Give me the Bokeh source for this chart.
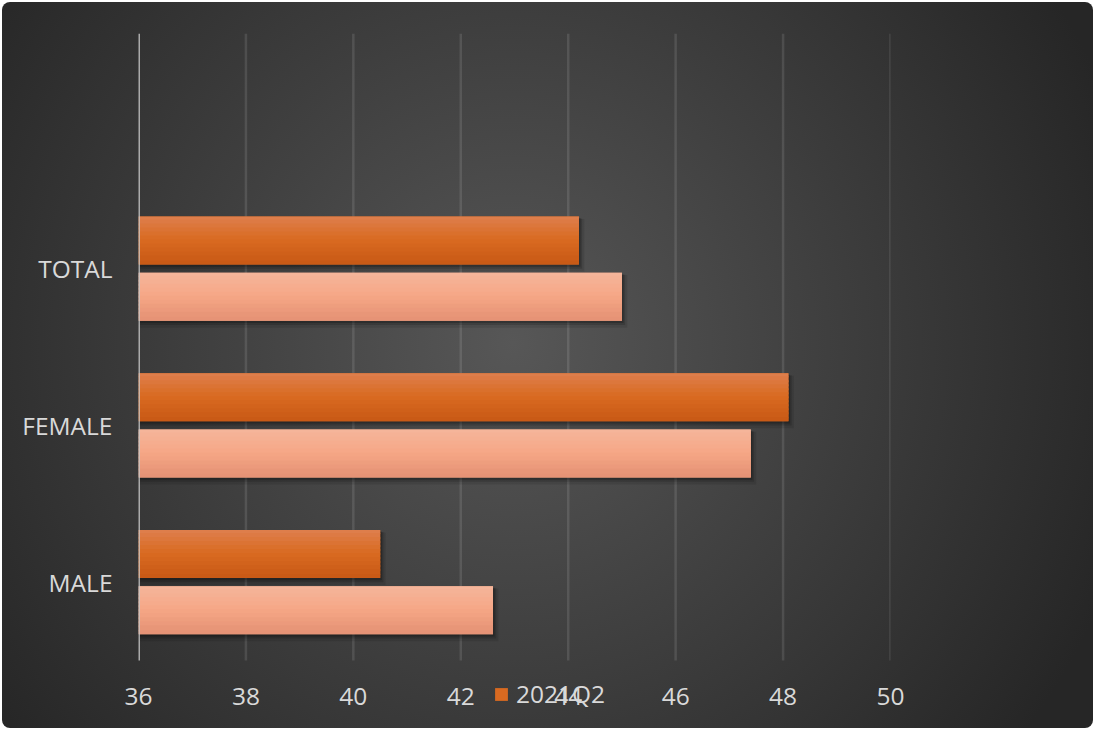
import numpy as np
from bokeh.plotting import figure
from bokeh.models import Range1d, FixedTicker, Legend, LegendItem
from bokeh.embed import file_html
from bokeh.resources import INLINE

# ---- data ----
categories = ["MALE", "FEMALE", "TOTAL"]
series_2021 = [40.5, 48.1, 44.2]      # dark orange, legend "2021Q2"
series_prev = [42.6, 47.4, 45.0]      # light salmon (no legend entry visible)
x_ticks = [36, 38, 40, 42, 44, 46, 48, 50]
legend_label = "2021Q2"

W, H = 1091, 726
Y_TOP = 4.0
Y_BOT = -0.332
p = figure(width=W, height=H, output_backend="svg", toolbar_location=None,
           x_range=Range1d(36, 50), y_range=Range1d(Y_BOT, Y_TOP),
           min_border_left=136, min_border_right=203,
           min_border_top=31, min_border_bottom=16)
p.styles = {
    "margin": "2px",
    "background": "radial-gradient(circle 643px at 511px 341px, #575757 0%, #262626 100%)",
    "border-radius": "8px", "overflow": "hidden",
}
p.background_fill_alpha = 0
p.border_fill_alpha = 0
p.outline_line_color = None

FONT = "Open Sans"
TXT = "#d9d9d9"
FS = "24.5px"

# axes
p.xaxis.ticker = FixedTicker(ticks=x_ticks)
p.xaxis.axis_line_color = None
p.xaxis.major_tick_line_color = None
p.xaxis.minor_tick_line_color = None
p.xaxis.major_label_text_font = FONT
p.xaxis.major_label_text_font_size = FS
p.xaxis.major_label_text_color = TXT
p.xaxis.major_label_standoff = -31

ypos = np.arange(len(categories)) + 0.5
p.yaxis.ticker = FixedTicker(ticks=list(ypos))
p.yaxis.major_label_overrides = {float(y): c for y, c in zip(ypos, categories)}
p.yaxis.axis_line_color = None
p.yaxis.major_tick_line_color = None
p.yaxis.minor_tick_line_color = None
p.yaxis.major_label_text_font = FONT
p.yaxis.major_label_text_font_size = FS
p.yaxis.major_label_text_color = TXT
p.yaxis.major_label_standoff = 20

p.xgrid.grid_line_color = None
p.ygrid.grid_line_color = None

# vertical gridlines over the plot area
gx = [t for t in x_ticks if t != x_ticks[0]]
p.segment(x0=gx, y0=[0] * len(gx), x1=gx, y1=[Y_TOP] * len(gx),
          line_color="white", line_alpha=0.11, line_width=2.5)

bar_h = 0.306
off = 0.179


def hexrgb(h):
    h = h.lstrip("#")
    return np.array([int(h[i:i + 2], 16) for i in (0, 2, 4)], float)


def interp(stops, t):
    for (p0, c0), (p1, c1) in zip(stops[:-1], stops[1:]):
        if p0 <= t <= p1:
            f = (t - p0) / (p1 - p0)
            c = hexrgb(c0) * (1 - f) + hexrgb(c1) * f
            return "#%02x%02x%02x" % tuple(int(round(v)) for v in c)
    return stops[-1][1]


dark_stops = [(0, "#de804f"), (0.5, "#d96a21"), (1, "#c85915")]
light_stops = [(0, "#f5b69c"), (0.5, "#f6a786"), (1, "#e49174")]


def draw_bars(values, yc, stops):
    values = np.array(values, float)
    for dx, dy, dh, a in [(0.10, 0.03, 0.03, 0.10), (0.06, 0.02, 0.015, 0.15), (0.03, 0.012, 0.005, 0.2)]:
        p.hbar(y=yc - dy, left=36, right=values + dx, height=bar_h + dh,
               fill_color="black", fill_alpha=a, line_color=None)
    base = p.hbar(y=yc, left=36, right=values, height=bar_h,
                  fill_color=interp(stops, 0.5), line_color=None)
    n = 12
    for i in range(n):
        t = (i + 0.5) / n
        yy = yc + bar_h / 2 - (i + 0.5) * bar_h / n
        p.hbar(y=yy, left=36, right=values, height=bar_h / n * 1.5 if 0 < i < n - 1 else bar_h / n,
               fill_color=interp(stops, t), line_color=None)
    return base


draw_bars(series_prev, ypos - off, light_stops)
dark_base = draw_bars(series_2021, ypos + off, dark_stops)

# value axis line (drawn over the bars, spans the category band)
p.segment(x0=[x_ticks[0]], y0=[0], x1=[x_ticks[0]], y1=[Y_TOP],
          line_color="#c8c8c8", line_alpha=0.8, line_width=3)

legend = Legend(items=[LegendItem(label=legend_label, renderers=[dark_base])],
                location=(355, 2), orientation="horizontal",
                glyph_width=16, glyph_height=16, label_standoff=7,
                padding=0, margin=0, spacing=0,
                border_line_color=None, background_fill_alpha=0,
                label_text_font=FONT, label_text_font_size=FS,
                label_text_color=TXT)
p.add_layout(legend, "center")

open("out.html", "w").write(file_html(p, INLINE))
